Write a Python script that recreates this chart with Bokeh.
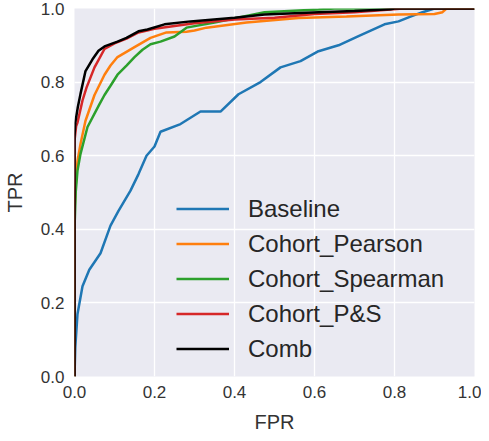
from bokeh.plotting import figure
from bokeh.models import Legend, LegendItem, Range1d, FixedTicker, PrintfTickFormatter
from bokeh.embed import file_html
from bokeh.resources import INLINE

# ---- data ----
baseline_fpr = [0, 0.002, 0.0075, 0.02, 0.037, 0.065, 0.09, 0.11, 0.14, 0.16, 0.18, 0.2, 0.215,
                0.265, 0.315, 0.365, 0.41, 0.465, 0.515, 0.565, 0.61, 0.66, 0.71, 0.775, 0.81,
                0.84, 0.87, 0.9, 1.0]
baseline_tpr = [0, 0.08, 0.17, 0.245, 0.29, 0.335, 0.41, 0.45, 0.505, 0.55, 0.6, 0.625, 0.665,
                0.686, 0.72, 0.72, 0.767, 0.8, 0.84, 0.857, 0.884, 0.9, 0.925, 0.957, 0.965,
                0.978, 0.99, 1.0, 1.0]

pearson_fpr = [0, 0, 0.003, 0.0075, 0.015, 0.0275, 0.05, 0.075, 0.09, 0.1075, 0.15, 0.19, 0.23,
               0.28, 0.3, 0.33, 0.43, 0.56, 0.68, 0.81, 0.9, 0.92, 0.93, 1.0]
pearson_tpr = [0, 0.45, 0.52, 0.586, 0.632, 0.695, 0.765, 0.82, 0.845, 0.868, 0.895, 0.92, 0.935,
               0.937, 0.94, 0.948, 0.962, 0.974, 0.978, 0.984, 0.985, 0.99, 1.0, 1.0]

spearman_fpr = [0, 0, 0.003, 0.0075, 0.015, 0.0325, 0.0625, 0.075, 0.09, 0.1075, 0.13, 0.15, 0.17,
                0.19, 0.215, 0.25, 0.28, 0.35, 0.475, 0.61, 0.65, 1.0]
spearman_tpr = [0, 0.4, 0.5, 0.56, 0.605, 0.678, 0.74, 0.765, 0.79, 0.82, 0.845, 0.868, 0.888,
                0.903, 0.91, 0.924, 0.948, 0.962, 0.99, 0.997, 1.0, 1.0]

ps_fpr = [0, 0, 0.004, 0.0075, 0.02, 0.03, 0.05, 0.075, 0.1, 0.13, 0.16, 0.2, 0.3, 0.4, 0.5, 0.6,
          0.7, 0.79, 0.82, 1.0]
ps_tpr = [0, 0.64, 0.68, 0.69, 0.75, 0.785, 0.84, 0.89, 0.905, 0.918, 0.935, 0.945, 0.96, 0.97,
          0.975, 0.985, 0.99, 0.997, 1.0, 1.0]

comb_fpr = [0, 0, 0.002, 0.008, 0.015, 0.0275, 0.045, 0.06, 0.075, 0.1075, 0.13, 0.16, 0.1825,
            0.225, 0.29, 0.4, 0.475, 0.61, 0.7, 0.79, 0.8, 1.0]
comb_tpr = [0, 0.65, 0.69, 0.73, 0.768, 0.83, 0.862, 0.885, 0.897, 0.91, 0.92, 0.938, 0.943,
            0.957, 0.965, 0.975, 0.984, 0.99, 0.993, 0.998, 1.0, 1.0]

series_names = ["Baseline", "Cohort_Pearson", "Cohort_Spearman", "Cohort_P&S", "Comb"]
series_colors = ["#1f77b4", "#ff7f0e", "#2ca02c", "#d62728", "#000000"]
series_x = [baseline_fpr, pearson_fpr, spearman_fpr, ps_fpr, comb_fpr]
series_y = [baseline_tpr, pearson_tpr, spearman_tpr, ps_tpr, comb_tpr]

tick_values = [0.0, 0.2, 0.4, 0.6, 0.8, 1.0]

FONT = "Liberation Sans"
TXT = "#333333"

p = figure(width=476, height=433, output_backend="svg", toolbar_location=None,
           x_range=Range1d(0, 1), y_range=Range1d(0, 1),
           frame_width=400, frame_height=368,
           min_border_left=69, min_border_top=8, min_border_right=7, min_border_bottom=57)

p.background_fill_color = "#EAEAF2"
p.border_fill_color = "white"
p.outline_line_color = None

for ax in (p.xaxis[0], p.yaxis[0]):
    ax.ticker = FixedTicker(ticks=tick_values)
    ax.formatter = PrintfTickFormatter(format="%.1f")
    ax.axis_line_color = None
    ax.major_tick_line_color = None
    ax.minor_tick_line_color = None
    ax.major_tick_in = 0
    ax.major_tick_out = 0
    ax.major_label_text_font = FONT
    ax.major_label_text_font_size = "17px"
    ax.major_label_text_color = TXT
    ax.axis_label_text_font = FONT
    ax.axis_label_text_font_size = "20px"
    ax.axis_label_text_font_style = "normal"
    ax.axis_label_text_color = TXT

p.xaxis.major_label_standoff = 9
p.yaxis.major_label_standoff = 10
p.xaxis.axis_label = "FPR"
p.yaxis.axis_label = "TPR"
p.xaxis.axis_label_standoff = 10
p.yaxis.axis_label_standoff = 12

for g in (p.xgrid[0], p.ygrid[0]):
    g.grid_line_color = "white"
    g.grid_line_width = 1.3
    g.ticker = FixedTicker(ticks=tick_values)

items = []
for name, color, xs, ys in zip(series_names, series_colors, series_x, series_y):
    r = p.line(xs, ys, line_color=color, line_width=2.5)
    items.append(LegendItem(label=name, renderers=[r]))

legend = Legend(items=items, location=(102, 10))
legend.background_fill_alpha = 0
legend.border_line_color = None
legend.padding = 0
legend.margin = 0
legend.spacing = 0
legend.glyph_width = 53
legend.glyph_height = 35
legend.label_height = 35
legend.label_standoff = 19
legend.label_text_font = FONT
legend.label_text_font_size = "24px"
legend.label_text_color = "#262626"
p.add_layout(legend, "center")

open("out.html", "w").write(file_html(p, INLINE))
